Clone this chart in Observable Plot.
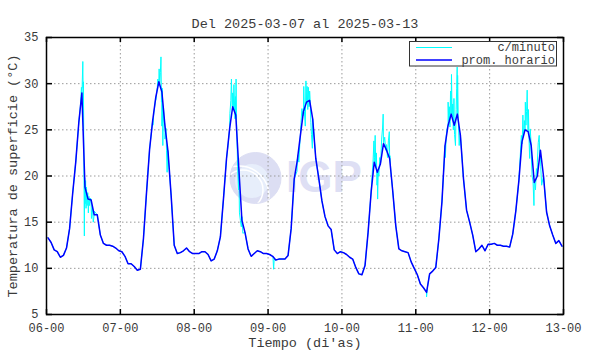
<!DOCTYPE html>
<html><head><meta charset="utf-8">
<script src="https://cdn.jsdelivr.net/npm/d3@7"></script>
<script src="https://cdn.jsdelivr.net/npm/@observablehq/plot@0.6"></script>
<style>body{margin:0;background:#fff} svg{display:block}</style>
</head><body><div id="chart"></div>
<script>
const title = "Del 2025-03-07 al 2025-03-13";
const yLabel = "Temperatura de superficie (°C)";
const xLabel = "Tiempo (di'as)";
const seriesNames = ["c/minuto", "prom. horario"];
const xTickDays = ["2025-03-06","2025-03-07","2025-03-08","2025-03-09","2025-03-10","2025-03-11","2025-03-12","2025-03-13"];
const yTicks = [5, 10, 15, 20, 25, 30, 35];
const days = ["2025-03-06","2025-03-07","2025-03-08","2025-03-09","2025-03-10","2025-03-11","2025-03-12"];

// hourly averages (value for each hour, plotted at the half hour)
const hourly06 = [13.3,12.8,12.0,11.8,11.2,11.4,12.2,14.3,18.1,21.5,25.8,29.0,18.8,17.5,17.4,15.8,15.8,13.6,12.7,12.5,12.5,12.4,12.2,11.9];
const hourly07 = [11.8,11.3,10.5,10.5,10.2,9.8,9.9,13.2,18.2,22.9,26.0,28.5,30.2,29.1,25.4,22.6,17.9,12.5,11.6,11.7,11.9,12.2,11.8,11.6];
const hourly08 = [11.6,11.6,11.8,11.8,11.5,10.8,11.0,11.9,13.4,17.5,21.9,25.1,27.5,26.6,20.8,15.2,13.9,12.1,11.3,11.6,11.9,11.8,11.6,11.6];
const hourly09 = [11.5,11.3,10.9,11.0,11.0,11.0,11.4,14.3,19.7,21.7,24.4,27.0,28.0,28.2,26.2,21.9,19.7,17.3,15.6,14.6,14.2,12.0,11.6,11.8];
const hourly10 = [11.7,11.5,11.2,11.0,10.1,9.4,9.3,10.3,13.9,18.3,21.5,20.4,21.3,23.5,22.8,21.9,18.4,14.6,12.1,11.9,11.8,11.7,10.7,10.0];
const hourly11 = [9.3,8.3,7.9,7.4,9.4,9.7,10.1,13.2,17.2,23.3,25.5,26.7,25.5,26.7,24.4,19.7,16.3,15.0,13.6,11.8,12.1,12.5,11.9,12.6];
const hourly12 = [12.6,12.7,12.5,12.5,12.4,12.4,12.3,13.7,16.2,19.5,23.7,25.0,24.8,23.3,19.3,20.0,22.8,20.0,16.1,14.6,13.6,12.7,13.0,12.4];

// per-minute excursions: [hour of day, value]
const minute06 = [[10.8,26.8],[11.0,27.5],[11.2,28.6],[11.35,29.6],[11.5,28.2],[11.65,30.5],[11.8,32.4],[11.9,29.5],[12.0,30.2],[12.1,24.0],[12.2,19.0],[12.3,13.5],[12.4,19.8],[12.55,17.0],[12.7,19.5],[12.85,16.5],[13.0,18.8],[13.2,16.8],[13.4,18.2],[13.6,16.0],[13.8,17.8],[14.0,16.8],[14.3,17.6],[14.6,15.4],[14.9,16.8],[15.2,15.0],[15.5,16.2]];
const minute07 = [[10.6,25.5],[10.9,26.9],[11.2,27.6],[11.5,28.2],[11.8,29.0],[12.0,29.6],[12.2,30.5],[12.4,29.8],[12.6,31.6],[12.8,30.0],[13.0,31.2],[13.2,32.9],[13.35,28.0],[13.5,25.4],[13.65,29.5],[13.8,23.3],[14.0,27.5],[14.2,26.2],[14.5,24.0],[14.8,25.2],[15.0,22.8],[15.2,20.4],[15.4,22.8],[15.7,21.5]];
const minute08 = [[10.7,22.5],[11.0,23.3],[11.3,24.4],[11.6,26.8],[11.9,28.2],[12.1,30.5],[12.3,27.5],[12.5,29.0],[12.7,27.2],[12.9,29.9],[13.1,27.8],[13.25,26.2],[13.4,28.6],[13.6,30.5],[13.75,26.0],[13.9,24.0],[14.1,21.0],[14.4,18.5],[14.7,16.0],[15.0,15.2],[15.3,14.5],[15.5,15.6],[15.8,13.8]];
const minute09 = [[1.6,11.2],[1.8,9.9],[2.0,11.0],[9.4,20.5],[9.7,22.3],[10.0,21.5],[10.4,24.0],[10.7,25.8],[11.0,27.3],[11.3,26.5],[11.6,29.7],[11.8,27.0],[12.1,25.4],[12.3,30.3],[12.5,28.0],[12.7,29.7],[12.9,27.2],[13.1,29.6],[13.3,27.5],[13.5,29.2],[13.7,28.0],[13.9,25.8],[14.1,24.5],[14.4,23.0]];
const minute10 = [[9.8,20.0],[10.1,21.5],[10.4,23.8],[10.6,22.0],[10.8,24.4],[11.0,21.0],[11.2,22.5],[11.4,19.0],[11.6,17.5],[11.8,20.5],[12.0,20.0],[12.3,22.0],[12.6,21.5],[12.9,24.0],[13.2,25.2],[13.4,26.7],[13.6,23.7],[13.9,24.2],[14.2,22.8],[14.5,23.4],[14.8,22.0],[15.1,23.8],[15.4,24.8],[15.6,22.2],[15.9,20.5]];
const minute11 = [[3.2,7.6],[3.5,6.9],[3.8,8.0],[9.6,22.0],[9.9,24.4],[10.2,25.2],[10.5,28.0],[10.7,26.0],[10.9,27.5],[11.1,25.3],[11.3,29.2],[11.6,31.0],[11.8,26.5],[12.0,27.8],[12.2,25.0],[12.4,28.4],[12.6,24.5],[12.9,23.3],[13.1,27.2],[13.3,29.5],[13.45,31.8],[13.6,30.9],[13.8,26.2],[14.1,23.3],[14.4,24.6]];
const minute12 = [[10.0,22.5],[10.3,24.4],[10.6,23.5],[10.8,26.6],[11.0,24.2],[11.3,26.0],[11.6,28.0],[11.8,25.5],[12.0,27.0],[12.2,29.3],[12.4,25.5],[12.6,27.2],[12.8,24.0],[13.0,21.9],[13.2,25.1],[13.5,22.5],[13.8,20.0],[14.1,19.4],[14.4,16.8],[14.6,19.6],[14.9,18.5],[15.2,20.8],[15.5,21.5],[15.8,23.6],[16.1,24.4],[16.3,22.0],[16.6,21.0],[16.9,19.0]];

const hourly = [hourly06, hourly07, hourly08, hourly09, hourly10, hourly11, hourly12];
const minute = [minute06, minute07, minute08, minute09, minute10, minute11, minute12];
const toDate = (i, h) => new Date(Date.parse(days[i] + "T00:00:00Z") + h * 3600e3);
const blue = hourly.flatMap((arr, i) => arr.map((v, h) => ({t: toDate(i, h + 0.5), v})));
const cyan = blue.concat(minute.flatMap((arr, i) => arr.map(([h, v]) => ({t: toDate(i, h), v}))))
  .sort((a, b) => a.t - b.t);

const xTicks = xTickDays.map(d => new Date(d + "T00:00:00Z"));
const fmt = d3.utcFormat("%d-%H");
const mono = "'Liberation Mono', 'DejaVu Sans Mono', monospace";
const gridStyle = {stroke: "#9a9a9a", strokeOpacity: 1, strokeDasharray: "1.5,2.5", strokeWidth: 1};
const textColor = "#3a3a3a";

const chart = Plot.plot({
  width: 590, height: 354,
  marginLeft: 46, marginRight: 27, marginTop: 37, marginBottom: 40,
  style: {fontFamily: mono, fontSize: "12px", color: textColor, background: "#fff", overflow: "visible"},
  x: {type: "utc", domain: [xTicks[0], xTicks[xTicks.length - 1]]},
  y: {domain: [yTicks[0], yTicks[yTicks.length - 1]]},
  marks: [
    // watermark
    Plot.dot([0], {frameAnchor: "middle", dx: -49.5, dy: 2, r: 25.5, fill: "#dcdef3", stroke: "none"}),
    Plot.dot([0], {frameAnchor: "middle", dx: -53, dy: 5, r: 17, fill: "#e7eefb", stroke: "none"}),
    Plot.dot([0], {frameAnchor: "middle", dx: -62, dy: 14, r: 20, fill: "none", stroke: "#fff", strokeWidth: 1.5}),
    Plot.dot([0], {frameAnchor: "middle", dx: -66, dy: 20, r: 30, fill: "none", stroke: "#fff", strokeWidth: 1.5}),
    Plot.dot([0], {frameAnchor: "middle", dx: -49.5, dy: 2, r: 25.5, fill: "none", stroke: "#dcdef3", strokeWidth: 1}),
    Plot.text(["IGP"], {frameAnchor: "middle", dx: 19, dy: 2, fontSize: 44, fontWeight: "bold", fill: "#dedff4", fontFamily: "'Liberation Sans', sans-serif"}),
    Plot.gridX(xTicks, gridStyle),
    Plot.gridY(yTicks, gridStyle),
    Plot.line(cyan, {x: "t", y: "v", stroke: "#00ffff", strokeWidth: 1}),
    Plot.line(blue, {x: "t", y: "v", stroke: "#0000ff", strokeWidth: 1.5}),
    Plot.tickX(xTicks, {insetBottom: 272, stroke: "#000", strokeWidth: 1.5}),
    Plot.tickX(xTicks, {insetTop: 272, stroke: "#000", strokeWidth: 1.5}),
    Plot.tickY(yTicks, {insetRight: 511, stroke: "#000", strokeWidth: 1.5}),
    Plot.tickY(yTicks, {insetLeft: 511, stroke: "#000", strokeWidth: 1.5}),
    Plot.frame({stroke: "#000", strokeWidth: 1.5}),
    Plot.axisX(xTicks, {tickSize: 0, tickPadding: 9, tickFormat: fmt, label: null, fill: textColor}),
    Plot.axisY(yTicks, {tickSize: 0, tickPadding: 8, label: null, fill: textColor}),
    Plot.text([title], {frameAnchor: "top", dy: -19, fontSize: 13.5, fill: textColor}),
    Plot.text([xLabel], {frameAnchor: "bottom", dy: 32, fontSize: 13.5, fill: textColor}),
    Plot.text([yLabel], {frameAnchor: "left", dx: -34, rotate: -90, textAnchor: "middle", fontSize: 13.5, fill: textColor})
  ]
});

// legend box
const svg = d3.select(chart);
const lg = svg.append("g").attr("font-family", mono).attr("font-size", 12).attr("fill", textColor);
lg.append("rect").attr("x", 409.5).attr("y", 41.5).attr("width", 147).attr("height", 24.5)
  .attr("fill", "#fff").attr("stroke", "#333").attr("stroke-width", 1);
const legendColors = ["#00ffff", "#0000ff"];
seriesNames.forEach((name, i) => {
  const y = 47.5 + i * 12.5;
  lg.append("line").attr("x1", 416).attr("x2", 452).attr("y1", y).attr("y2", y)
    .attr("stroke", legendColors[i]).attr("stroke-width", i ? 1.5 : 1);
  lg.append("text").attr("x", 555).attr("y", y).attr("dy", "0.32em").attr("text-anchor", "end").text(name);
});

document.getElementById("chart").appendChild(chart);
</script>
</body></html>
